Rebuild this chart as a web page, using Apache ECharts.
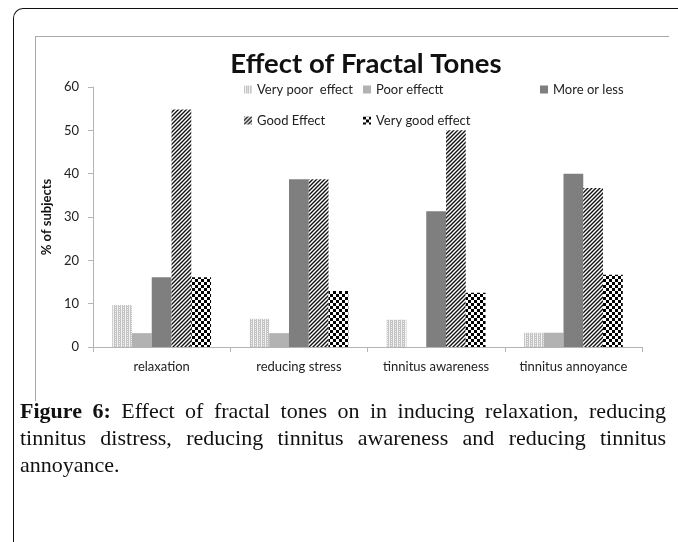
<!DOCTYPE html>
<html>
<head>
<meta charset="utf-8">
<script src="https://cdn.jsdelivr.net/npm/echarts@6/dist/echarts.min.js"></script>
<style>
  html, body { margin: 0; padding: 0; background: #fff; }
  #page { position: relative; width: 678px; height: 542px; overflow: hidden; }
  #frame {
    position: absolute; left: 13px; top: 8px; width: 700px; height: 600px;
    border-left: 1.5px solid #111; border-top: 1.5px solid #111;
    border-top-left-radius: 10px;
  }
  #box {
    position: absolute; left: 35px; top: 36px; width: 633px; height: 364px;
    border-left: 1px solid #a8a8a8; border-top: 1px solid #a8a8a8;
  }
  #chart { position: absolute; left: 0; top: 0; width: 678px; height: 400px; }
  #caption {
    position: absolute; left: 20px; top: 397px; width: 646px;
    font-family: "Liberation Serif", serif; font-size: 22px; line-height: 27px; color: #111;
  }
  #caption .j { text-align: justify; text-align-last: justify; }
  #caption b { font-weight: bold; }
</style>
</head>
<body>
<div id="page">
  <div id="frame"></div>
  <div id="box"></div>
  <div id="chart"></div>
  <div id="caption">
    <div class="j"><b>Figure 6:</b> Effect of fractal tones on in inducing relaxation, reducing</div>
    <div class="j">tinnitus distress, reducing tinnitus awareness and reducing tinnitus</div>
    <div>annoyance.</div>
  </div>
</div>
<script>
const categories = ['relaxation', 'reducing stress', 'tinnitus awareness', 'tinnitus annoyance']
const seriesNames = ['Very poor  effect', 'Poor effectt', 'More or less', 'Good Effect', 'Very good effect']
const veryPoor = [9.7, 6.5, 6.3, 3.3]
const poor = [3.2, 3.2, 0, 3.3]
const moreOrLess = [16.1, 38.7, 31.3, 40.0]
const good = [54.8, 38.7, 50.0, 36.7]
const veryGood = [16.1, 12.9, 12.5, 16.7]
const yTicks = [0, 10, 20, 30, 40, 50, 60]

// small canvas patterns for the hatched bars
function makePattern(size, draw) {
  const c = document.createElement('canvas')
  c.width = size
  c.height = size
  const ctx = c.getContext('2d')
  draw(ctx)
  return { image: c, repeat: 'repeat' }
}

const dotFill = makePattern(4, (ctx) => {
  ctx.fillStyle = '#c4c4c4'
  ctx.fillRect(0, 0, 4, 4)
  ctx.fillStyle = '#f2f2f2'
  ctx.fillRect(1, 0, 1, 4)
  ctx.fillRect(3, 1, 1, 1)
  ctx.fillRect(3, 3, 1, 1)
})

const stripeFill = makePattern(4, (ctx) => {
  ctx.fillStyle = '#fff'
  ctx.fillRect(0, 0, 4, 4)
  ctx.strokeStyle = '#111'
  ctx.lineWidth = 1.4
  ctx.beginPath()
  ctx.moveTo(-1, 5); ctx.lineTo(5, -1)
  ctx.moveTo(-1, 1); ctx.lineTo(1, -1)
  ctx.moveTo(3, 5); ctx.lineTo(5, 3)
  ctx.stroke()
})

const checkFill = makePattern(6, (ctx) => {
  ctx.fillStyle = '#fff'
  ctx.fillRect(0, 0, 6, 6)
  ctx.fillStyle = '#000'
  ctx.fillRect(0, 0, 3, 3)
  ctx.fillRect(3, 3, 3, 3)
})

const fills = [dotFill, '#b2b2b2', '#7f7f7f', stripeFill, checkFill]
const values = [veryPoor, poor, moreOrLess, good, veryGood]

const chart = echarts.init(document.getElementById('chart'))

const legendText = { fontFamily: 'Lato', fontSize: 13, color: '#222', lineHeight: 15 }
const legendBase = {
  orient: 'vertical',
  top: 82,
  icon: 'rect',
  itemWidth: 8,
  itemHeight: 8,
  itemGap: 16,
  padding: 0,
  textStyle: legendText,
  selectedMode: false
}

const option = {
  animation: false,
  title: {
    text: 'Effect of Fractal Tones',
    left: 361,
    textAlign: 'center',
    top: 45,
    textStyle: { fontFamily: 'Lato', fontSize: 27.5, fontWeight: 'bold', color: '#111' }
  },
  legend: [
    Object.assign({}, legendBase, { left: 244, data: [seriesNames[0], seriesNames[3]] }),
    Object.assign({}, legendBase, { left: 363, data: [seriesNames[1], seriesNames[4]] }),
    Object.assign({}, legendBase, { left: 540, data: [seriesNames[2]] })
  ],
  grid: { left: 93, right: 36, top: 87, bottom: 53 },
  xAxis: {
    type: 'category',
    data: categories,
    axisLine: { lineStyle: { color: '#b4b4b4' } },
    axisTick: { show: true, length: 5, lineStyle: { color: '#b4b4b4' } },
    axisLabel: { interval: 0, fontFamily: 'Lato', fontSize: 13, color: '#222', margin: 13 }
  },
  yAxis: {
    type: 'value',
    min: 0,
    max: 60,
    interval: 10,
    name: '% of subjects',
    nameLocation: 'middle',
    nameGap: 40,
    nameTextStyle: { fontFamily: 'Lato', fontSize: 13, fontWeight: 'bold', color: '#111' },
    splitLine: { show: false },
    axisLine: { show: true, lineStyle: { color: '#b4b4b4' } },
    axisTick: { show: true, length: 5, lineStyle: { color: '#b4b4b4' } },
    axisLabel: {
      fontFamily: 'Lato', fontSize: 13, color: '#222', margin: 14,
      formatter: (v) => (yTicks.includes(v) ? String(v) : '')
    }
  },
  series: seriesNames.map((name, i) => ({
    name: name,
    type: 'bar',
    data: values[i],
    barGap: '0%',
    barCategoryGap: '28%',
    itemStyle: { color: fills[i] }
  }))
}

chart.setOption(option)
</script>
</body>
</html>
